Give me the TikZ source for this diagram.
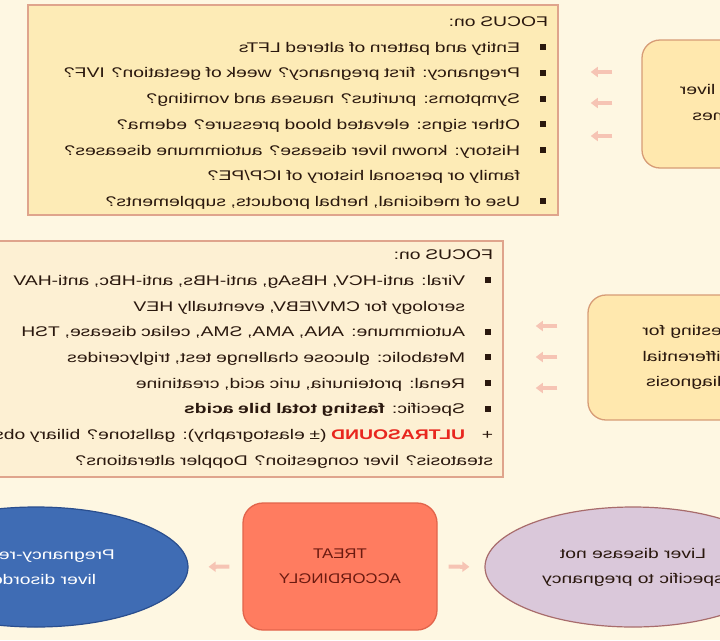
\documentclass[tikz,border=0pt]{standalone}
\usepackage{fontspec}
\setmainfont{Liberation Sans}[FakeStretch=1.38]
\newfontfamily\treatfont{Liberation Sans}[FakeStretch=1.2]
\usetikzlibrary{arrows.meta,shapes.geometric}

\definecolor{bgcream}{HTML}{FEF7E2}
\definecolor{focusA}{HTML}{FDEBB6}
\definecolor{focusB}{HTML}{FDF0D3}
\definecolor{focusline}{HTML}{DFA48C}
\definecolor{rboxfill}{HTML}{FFE8AE}
\definecolor{rboxline}{HTML}{D79C76}
\definecolor{ink}{HTML}{2A180E}
\definecolor{ultrared}{HTML}{E8261E}
\definecolor{arrowpink}{HTML}{F6C4B4}
\definecolor{treatfill}{HTML}{FF7C60}
\definecolor{treatline}{HTML}{E2644B}
\definecolor{treatink}{HTML}{6A1A10}
\definecolor{ovalblue}{HTML}{3F6CB4}
\definecolor{ovalblueline}{HTML}{2A4E8E}
\definecolor{lilac}{HTML}{DAC8DA}
\definecolor{lilacline}{HTML}{A86C6C}

\tikzset{
  >=stealth,
  mirror/.style ={xscale=-1},
  focus/.style  ={mirror, draw=focusline, line width=1.5pt, align=left, inner xsep=10pt, inner ysep=0pt, text=ink, font=\fontsize{14}{25.7}\selectfont},
  rbox/.style   ={mirror, draw=rboxline, line width=1.3pt, rounded corners=18pt, fill=rboxfill, align=center, text=ink, font=\fontsize{14}{25.5}\selectfont},
  treat/.style  ={mirror, draw=treatline, line width=1.3pt, rounded corners=20pt, fill=treatfill, align=center, text=treatink, minimum width=194pt, minimum height=127pt, font=\treatfont\fontsize{14}{25}\selectfont},
  oval/.style   ={mirror, ellipse, line width=1.2pt, inner sep=0pt, minimum height=120pt, align=center, font=\fontsize{14}{25}\selectfont},
  flow/.style   ={-{Triangle[length=7pt,width=10pt]}, line width=4pt, draw=arrowpink},
}
\newcommand{\bul}{\hspace*{2pt}\rule[2pt]{6pt}{6pt}\hspace{20pt}}
\newcommand{\cont}{\hspace*{28pt}}

\begin{document}
\begin{tikzpicture}[x=1pt,y=-1pt]
  \useasboundingbox (0,0) rectangle (720,640);
  \clip (0,0) rectangle (720,640);
  \fill[bgcream] (0,0) rectangle (720,640);

  % history and examination
  \node[focus, fill=focusA, text width=510pt, minimum height=210pt] (fa) at (293,110) {%
    \rule{0pt}{16pt}FOCUS on:\\
    \bul Entity and pattern of altered LFTs\\
    \bul Pregnancy: first pregnancy? week of gestation? IVF?\\
    \bul Symptoms: pruritus? nausea and vomiting?\\
    \bul Other signs: elevated blood pressure? edema?\\
    \bul History: known liver disease? autoimmune diseases?\\
    \cont family or personal history of ICP/PE?\\
    \bul Use of medicinal, herbal products, supplements?};
  \node[rbox, minimum width=178pt, minimum height=128pt] (lv) at (731,104) {Altered liver\\enzymes};
  \foreach \y in {72,103,136}
    \draw[flow, shorten <=29pt, shorten >=32pt] (lv.east |- 0,\y) -- (fa.west |- 0,\y);

  % laboratory work-up
  \node[focus, fill=focusB, text width=603pt, minimum height=236pt] (fb) at (191.5,359) {%
    FOCUS on:\\
    \bul Viral: anti-HCV, HBsAg, anti-HBs, anti-HBc, anti-HAV\\
    \cont serology for CMV/EBV, eventually HEV\\
    \bul Autoimmune: ANA, AMA, SMA, celiac disease, TSH\\
    \bul Metabolic: glucose challenge test, triglycerides\\
    \bul Renal: proteinuria, uric acid, creatinine\\
    \bul Specific: \textbf{fasting total bile acids}\\
    \makebox[28pt][l]{+}\textcolor{ultrared}{\textbf{ULTRASOUND}} (± elastography): gallstone? biliary obstruction?\\
    steatosis? liver congestion? Doppler alterations?};
  \node[rbox, minimum width=198pt, minimum height=125pt] (td) at (687,357.5) {Testing for\\differential\\diagnosis};
  \foreach \y in {326,357,388}
    \draw[flow, shorten <=30pt, shorten >=32pt] (td.east |- 0,\y) -- (fb.west |- 0,\y);

  % outcome
  \node[treat] (tr) at (340,566.5) {TREAT\\ACCORDINGLY};
  \node[oval, fill=ovalblue, draw=ovalblueline, text=white, minimum width=304pt] (pr) at (36,567) {Pregnancy-related\\liver disorders};
  \node[oval, fill=lilac, draw=lilacline, text=ink, minimum width=296pt] (ns) at (633,567) {Liver disease not\\specific to pregnancy};
  \draw[flow, shorten <=13pt, shorten >=20pt] (tr.east) -- (pr.west);
  \draw[flow, shorten <=11pt, shorten >=15pt] (tr.west) -- (ns.east);
\end{tikzpicture}
\end{document}
